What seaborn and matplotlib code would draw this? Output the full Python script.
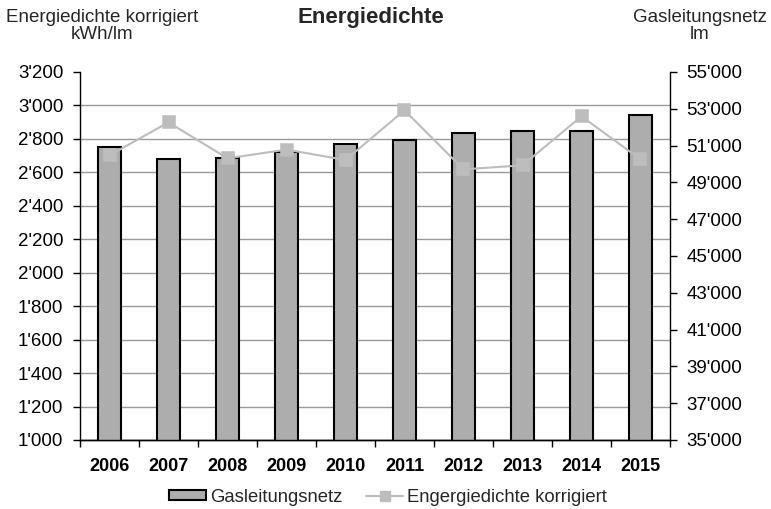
import numpy as np
import pandas as pd
import matplotlib
matplotlib.use('Agg')
import matplotlib.pyplot as plt
from matplotlib.ticker import FuncFormatter, FixedLocator
from matplotlib.patches import Patch
from matplotlib.lines import Line2D
import seaborn as sns

# data
years = ['2006', '2007', '2008', '2009', '2010', '2011', '2012', '2013', '2014', '2015']
gasleitungsnetz = [50920, 50250, 50310, 50670, 51070, 51300, 51670, 51790, 51770, 52680]  # lm, right axis
energiedichte = [2702, 2899, 2684, 2736, 2674, 2971, 2618, 2642, 2935, 2678]  # kWh/lm, left axis

left_ticks = list(range(1000, 3201, 200))
right_ticks = list(range(35000, 55001, 2000))

sns.set_theme(style='white')
plt.rcParams['font.family'] = ['Liberation Sans', 'DejaVu Sans']

bar_color = '#adadad'
line_color = '#bdbdbd'
grid_color = '#9a9a9a'

df = pd.DataFrame({'year': years, 'netz': gasleitungsnetz, 'dichte': energiedichte})

fig = plt.figure(figsize=(7.71, 5.09), dpi=100)
# ax: left scale + gridlines (bottom layer), ax2: bars on right scale, ax3: line on left scale (top)
ax = fig.add_axes([80 / 771, 1 - 440 / 509, 590 / 771, 368 / 509])
ax2 = ax.twinx()
ax3 = ax.twinx()

sns.barplot(data=df, x='year', y='netz', ax=ax2, color=bar_color, edgecolor='black',
            linewidth=1.5, width=0.4, saturation=1)
sns.pointplot(data=df, x='year', y='dichte', ax=ax3, color=line_color, marker='s',
              markersize=8, linewidth=1.5)

ax.set_zorder(0)
ax2.set_zorder(1)
ax3.set_zorder(2)
ax2.patch.set_visible(False)
ax3.patch.set_visible(False)

ax.set_ylim(1000, 3200)
ax3.set_ylim(1000, 3200)
ax2.set_ylim(35000, 55000)
ax.set_xlim(-0.5, 9.5)

fmt = FuncFormatter(lambda v, p: f"{v:,.0f}".replace(',', "'"))
ax.yaxis.set_major_locator(FixedLocator(left_ticks))
ax.yaxis.set_major_formatter(fmt)
ax2.yaxis.set_major_locator(FixedLocator(right_ticks))
ax2.yaxis.set_major_formatter(fmt)

# gridlines follow the left axis, behind the bars
ax.yaxis.grid(True, color=grid_color, linewidth=1)
ax.set_axisbelow(True)
ax.get_ygridlines()[-1].set_visible(False)

for a in (ax, ax2, ax3):
    a.set_xlabel('')
    a.set_ylabel('')
    for s in a.spines.values():
        s.set_visible(False)
ax.spines['left'].set_visible(True)
ax.spines['bottom'].set_visible(True)
ax2.spines['right'].set_visible(True)
ax2.spines['bottom'].set_visible(True)
for a in (ax, ax2):
    for s in a.spines.values():
        s.set_color('black')
        s.set_linewidth(1)

ax3.tick_params(axis='both', which='both', left=False, right=False, bottom=False,
                labelleft=False, labelright=False, labelbottom=False)

ax.tick_params(axis='y', which='major', left=True, right=False, length=5, width=1,
               color='black', labelsize=13.5, pad=7, direction='out', labelcolor='black')
ax2.tick_params(axis='y', which='major', right=True, left=False, length=5, width=1,
                color='black', labelsize=13.5, pad=7, direction='out', labelcolor='black')

# category labels bold, tick marks between categories
ax.set_xticks(range(len(years)))
ax.set_xticklabels(years, fontweight='bold', fontsize=13)
ax.tick_params(axis='x', which='major', length=0, pad=13, labelcolor='black')
ax.set_xticks(np.arange(-0.5, len(years), 1), minor=True)
ax.tick_params(axis='x', which='minor', bottom=True, length=5, width=1, color='black',
               direction='out')
ax2.tick_params(axis='x', which='both', bottom=False, labelbottom=False)

fig.text(371 / 771, 1 - 18 / 509, 'Energiedichte', ha='center', va='center',
         fontsize=16, fontweight='bold')
fig.text(102 / 771, 1 - 26 / 509, 'Energiedichte korrigiert\nkWh/lm', ha='center',
         va='center', fontsize=13.5, linespacing=1.05)
fig.text(700 / 771, 1 - 26 / 509, 'Gasleitungsnetz\nlm', ha='center', va='center',
         fontsize=13.5, linespacing=1.05)

handles = [
    Patch(facecolor=bar_color, edgecolor='black', linewidth=1.5, label='Gasleitungsnetz'),
    Line2D([], [], color=line_color, marker='s', markersize=7, linewidth=1.5,
           label='Engergiedichte korrigiert'),
]
fig.legend(handles=handles, loc='center', bbox_to_anchor=(388 / 771, 1 - 497 / 509), ncol=2,
           frameon=False, fontsize=13.3, handlelength=2.0, handleheight=0.5,
           handletextpad=0.2, columnspacing=1.3, borderpad=0)

fig.savefig('out.png', dpi=100)
plt.close(fig)
